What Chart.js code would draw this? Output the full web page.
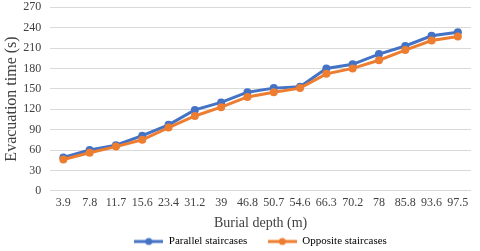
<!DOCTYPE html>
<html>
<head>
<meta charset="utf-8">
<script src="https://cdn.jsdelivr.net/npm/chart.js@4"></script>
<style>
  html, body { margin: 0; padding: 0; background: #fff; }
  #wrap { width: 480px; height: 251px; }
</style>
</head>
<body>
<div id="wrap"><canvas id="chart" width="480" height="251"></canvas></div>
<script>
// Burial depth categories (m)
const depths = ['3.9', '7.8', '11.7', '15.6', '23.4', '31.2', '39', '46.8', '50.7', '54.6', '66.3', '70.2', '78', '85.8', '93.6', '97.5'];
// Evacuation time (s)
const parallelTimes = [49, 60, 67, 81, 97, 119, 130, 145, 151, 153, 180, 186, 201, 213, 228, 233];
const oppositeTimes = [46, 56, 65, 75, 93, 110, 123, 138, 145, 151, 172, 180, 192, 207, 221, 227];
const yTicks = [0, 30, 60, 90, 120, 150, 180, 210, 240, 270];

const BLUE = '#4472C4';
const ORANGE = '#ED7D31';
const FONT = '"Liberation Serif", "Times New Roman", serif';

// legend marker: line with a dot in the middle
function legendMark(color) {
    const c = document.createElement('canvas');
    c.width = 29; c.height = 10;
    const ctx = c.getContext('2d');
    ctx.strokeStyle = color;
    ctx.lineWidth = 3;
    ctx.beginPath();
    ctx.moveTo(0, 5);
    ctx.lineTo(29, 5);
    ctx.stroke();
    ctx.fillStyle = color;
    ctx.beginPath();
    ctx.arc(14.5, 5, 3.5, 0, Math.PI * 2);
    ctx.fill();
    return c;
}

new Chart(document.getElementById('chart'), {
    type: 'line',
    data: {
        labels: depths,
        datasets: [
            {
                label: 'Parallel staircases',
                data: parallelTimes,
                borderColor: BLUE,
                backgroundColor: BLUE,
                borderWidth: 3,
                pointRadius: 4,
                pointBorderWidth: 0,
                order: 2
            },
            {
                label: 'Opposite staircases',
                data: oppositeTimes,
                borderColor: ORANGE,
                backgroundColor: ORANGE,
                borderWidth: 3,
                pointRadius: 4,
                pointBorderWidth: 0,
                order: 1
            }
        ]
    },
    options: {
        responsive: false,
        animation: false,
        layout: { padding: { top: 0, right: 9, left: 2, bottom: -6 } },
        plugins: {
            tooltip: { enabled: false },
            legend: {
                position: 'bottom',
                fullSize: false,
                labels: {
                    font: { family: FONT, size: 11 },
                    color: '#404040',
                    usePointStyle: true,
                    pointStyleWidth: 29,
                    boxHeight: 10,
                    padding: 4,
                    generateLabels: function(chart) {
                        const n = chart.data.datasets.length;
                        return chart.data.datasets.map(function(ds, i) {
                            // a little extra room between the two entries
                            const gap = i < n - 1 ? '      ' : '';
                            return {
                                text: ds.label + gap,
                                pointStyle: legendMark(ds.borderColor),
                                fillStyle: ds.borderColor,
                                strokeStyle: ds.borderColor,
                                lineWidth: 0,
                                datasetIndex: i
                            };
                        });
                    }
                }
            }
        },
        scales: {
            x: {
                offset: true,
                grid: { display: false, drawTicks: false },
                border: { display: false },
                ticks: {
                    font: { family: FONT, size: 12 },
                    color: '#404040',
                    maxRotation: 0,
                    autoSkip: false,
                    padding: 5
                },
                title: {
                    display: true,
                    text: 'Burial depth (m)',
                    font: { family: FONT, size: 14 },
                    color: '#404040',
                    padding: { top: 0, bottom: 0 }
                }
            },
            y: {
                min: 0,
                max: 270,
                afterBuildTicks: function(axis) {
                    axis.ticks = yTicks.map(function(v) { return { value: v }; });
                },
                grid: { color: '#d9d9d9', lineWidth: 1, drawTicks: true, tickLength: 9, tickColor: 'rgba(0,0,0,0)' },
                border: { display: false },
                ticks: {
                    font: { family: FONT, size: 12 },
                    color: '#404040',
                    autoSkip: false,
                    padding: 0
                },
                title: {
                    display: true,
                    text: 'Evacuation time (s)',
                    font: { family: FONT, size: 16 },
                    color: '#404040',
                    padding: { top: 0, bottom: 2 }
                }
            }
        }
    }
});
</script>
</body>
</html>
